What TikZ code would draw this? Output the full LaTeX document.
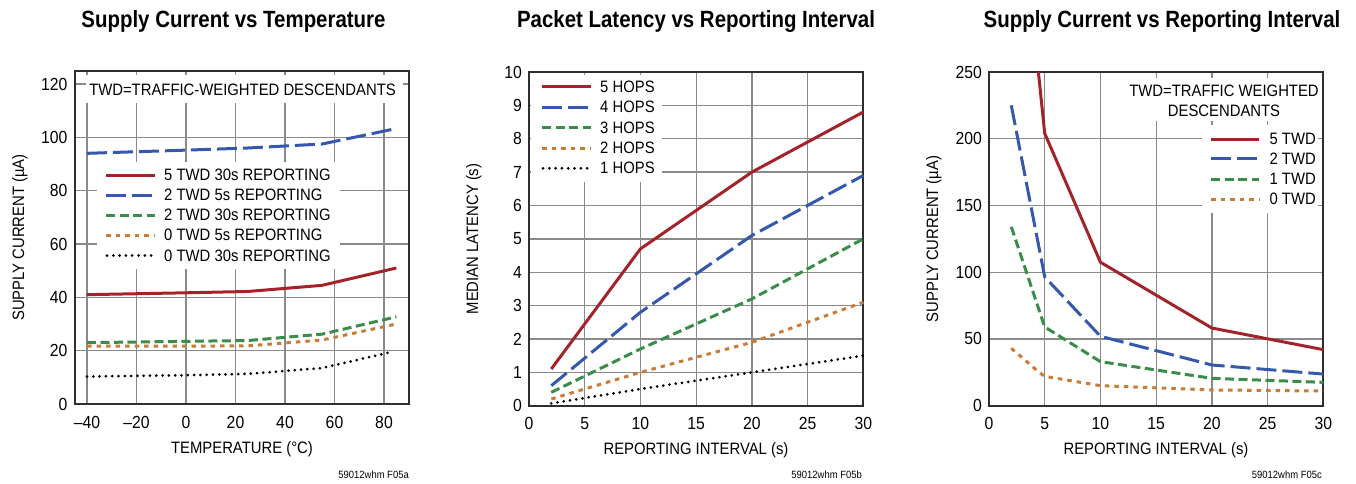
\documentclass[tikz,border=0pt]{standalone}
\usepackage{fontspec}
\setmainfont{Liberation Sans}[FakeStretch=0.9]
\newfontfamily\ttlfont{Liberation Sans}[FakeStretch=0.87]
\definecolor{cred}{HTML}{A3232B}
\definecolor{cblue}{HTML}{3558AC}
\definecolor{cgreen}{HTML}{3A8D48}
\definecolor{corange}{HTML}{C97B38}
\definecolor{gridc}{HTML}{8A8A8A}
\definecolor{framec}{HTML}{2E2E2E}
\tikzset{
 gridline/.style={gridc, line width=1.3pt},
 framebox/.style={framec, line width=2pt},
 c5/.style={cred, line width=3pt, line join=round},
 c4/.style={cblue, line width=3pt, dash pattern=on 20pt off 6pt},
 c3/.style={cgreen, line width=3pt, dash pattern=on 9pt off 4.5pt},
 c2/.style={corange, line width=3pt, dash pattern=on 4.5pt off 5pt},
 c1/.style={black, line width=3pt, line cap=round, dash pattern=on 0pt off 6.3pt},
 ttl/.style={font=\ttlfont\bfseries\fontsize{23.5}{27}\selectfont, anchor=base, inner sep=0pt},
 tick/.style={font=\fontsize{17.5}{20}\selectfont, inner sep=0pt},
 lab/.style={font=\fontsize{16.5}{19}\selectfont, inner sep=0pt},
 leg/.style={font=\fontsize{16.5}{19}\selectfont, inner sep=0pt, anchor=west},
 foot/.style={font=\fontsize{10.5}{12}\selectfont, inner sep=0pt, anchor=base east},
}
\begin{document}
\begin{tikzpicture}[x=1pt,y=-1pt]
\useasboundingbox[fill=white] (0,0) rectangle (1356,484);

% titles
\node[ttl] (t1) at (233.5,28) {Supply Current vs Temperature};
\node[ttl] (t2) at (696,28) {Packet Latency vs Reporting Interval};
\node[ttl] (t3) at (1162,28) {Supply Current vs Reporting Interval};

% ---------------- grids
\begin{scope}[shift={(186pt,-404pt)}, x=2.475pt, y=2.6667pt]
\foreach \t in {-40,-20,...,80} \draw[gridline] (\t,0) -- (\t,125);
\foreach \v in {20,40,...,120} \draw[gridline] (-45,\v) -- (90,\v);
\end{scope}
\begin{scope}[shift={(529pt,-405.7pt)}, x=11.143pt, y=33.37pt]
\foreach \t in {5,10,...,25} \draw[gridline] (\t,0) -- (\t,10);
\foreach \v in {1,...,9} \draw[gridline] (0,\v) -- (30,\v);
\end{scope}
\begin{scope}[shift={(989pt,-405.7pt)}, x=11.143pt, y=1.3348pt]
\foreach \t in {5,10,...,25} \draw[gridline] (\t,0) -- (\t,250);
\foreach \v in {50,100,...,200} \draw[gridline] (0,\v) -- (30,\v);
\end{scope}

% ---------------- white boxes behind texts
\fill[white] (86,75) rectangle (403,103);
\fill[white] (97,162) rectangle (340,269);
\fill[white] (531,75) rectangle (662,182);
\fill[white] (1128,78) rectangle (1320,121);
\fill[white] (1202,125) rectangle (1318,213);

% ---------------- panel 1
\begin{scope}[shift={(186pt,-404pt)}, x=2.475pt, y=2.6667pt]
\draw[framebox] (-45,0) rectangle (90,125);
\foreach \v [count=\i] in {0,20,...,120} \node[tick, anchor=east, xshift=-7pt] (p1y\i) at (-45,\v) {\v};
\foreach \t/\s [count=\i] in {-40/–40,-20/–20,0/0,20/20,40/40,60/60,80/80}
  \node[tick, yshift=-18pt] (p1x\i) at (\t,0) {\s};
\draw[c4] (-40,94) -- (0,95.2) -- (25,96) -- (55,97.5) -- (85,103.3);
\draw[c5] (-40,41) -- (0,41.7) -- (25,42.2) -- (55,44.5) -- (85,51);
\draw[c3] (-40,23) -- (0,23.5) -- (25,23.8) -- (55,26.2) -- (85,32.7);
\draw[c2] (-40,21.7) -- (0,21.7) -- (25,21.8) -- (55,24) -- (85,30);
\draw[c1] (-40,10.3) -- (0,10.8) -- (25,11.3) -- (55,13.5) -- (83,19.5);
\end{scope}
\node[lab, anchor=base] (p1n) at (242.5,96) {TWD=TRAFFIC-WEIGHTED DESCENDANTS};
\draw[c5] (106,175) -- (155,175);
\draw[c4] (106,195) -- (155,195);
\draw[c3] (106,215) -- (155,215);
\draw[c2] (106,235) -- (155,235);
\draw[c1] (107,255.5) -- (155,255.5);
\node[leg] (l1a) at (164,175) {5 TWD 30s REPORTING};
\node[leg] (l1b) at (164,195) {2 TWD 5s REPORTING};
\node[leg] (l1c) at (164,215) {2 TWD 30s REPORTING};
\node[leg] (l1d) at (164,235) {0 TWD 5s REPORTING};
\node[leg] (l1e) at (164,255.5) {0 TWD 30s REPORTING};
\node[lab, anchor=base] (p1xl) at (242,453) {TEMPERATURE (°C)};
\node[lab, anchor=base, rotate=90] (p1yl) at (24,237.5) {SUPPLY CURRENT (µA)};
\node[foot] (f1) at (409,478) {59012whm F05a};

% ---------------- panel 2
\begin{scope}[shift={(529pt,-405.7pt)}, x=11.143pt, y=33.37pt]
\draw[framebox] (0,0) rectangle (30,10);
\foreach \v [count=\i] in {0,...,10} \node[tick, anchor=east, xshift=-7pt] (p2y\i) at (0,\v) {\v};
\foreach \t [count=\i] in {0,5,...,30} \node[tick, yshift=-17.6pt] (p2x\i) at (\t,0) {\t};
\draw[c5] (2,1.1) -- (10,4.7) -- (20,7) -- (30,8.8);
\draw[c4] (2,0.6) -- (10,2.8) -- (20,5.1) -- (30,6.9);
\draw[c3] (2,0.4) -- (10,1.7) -- (20,3.2) -- (30,5.0);
\draw[c2] (2,0.2) -- (10,1.0) -- (20,1.9) -- (30,3.1);
\draw[c1] (2,0.07) -- (10,0.5) -- (20,1.0) -- (30,1.5);
\end{scope}
\draw[c5] (542,87) -- (591,87);
\draw[c4] (542,107.3) -- (591,107.3);
\draw[c3] (542,127.6) -- (591,127.6);
\draw[c2] (542,148) -- (591,148);
\draw[c1] (543,168.3) -- (591,168.3);
\node[leg] (l2a) at (600,87) {5 HOPS};
\node[leg] (l2b) at (600,107.3) {4 HOPS};
\node[leg] (l2c) at (600,127.6) {3 HOPS};
\node[leg] (l2d) at (600,148) {2 HOPS};
\node[leg] (l2e) at (600,168.3) {1 HOPS};
\node[lab, anchor=base] (p2xl) at (696,454) {REPORTING INTERVAL (s)};
\node[lab, anchor=base, rotate=90] (p2yl) at (478,239) {MEDIAN LATENCY (s)};
\node[foot] (f2) at (862,478) {59012whm F05b};

% ---------------- panel 3
\begin{scope}[shift={(989pt,-405.7pt)}, x=11.143pt, y=1.3348pt]
\draw[framebox] (0,0) rectangle (30,250);
\foreach \v [count=\i] in {0,50,...,250} \node[tick, anchor=east, xshift=-7pt] (p3y\i) at (0,\v) {\v};
\foreach \t [count=\i] in {0,5,...,30} \node[tick, yshift=-17.6pt] (p3x\i) at (\t,0) {\t};
\draw[c5] (4.43,250) -- (5,204) -- (10,107.5) -- (20,58.2) -- (30,42);
\draw[c4] (2,225) -- (5,96.5) -- (10,52) -- (20,30.5) -- (30,23.7);
\draw[c3] (2,134) -- (5,59) -- (10,33) -- (20,20.5) -- (30,17.5);
\draw[c2] (2,43) -- (4.5,25) -- (5,22) -- (10,15) -- (20,11.8) -- (30,11);
\end{scope}
\node[lab, anchor=base] (p3n1) at (1224,96.7) {TWD=TRAFFIC WEIGHTED};
\node[lab, anchor=base] (p3n2) at (1224,116.7) {DESCENDANTS};
\draw[c5] (1211,139) -- (1259,139);
\draw[c4] (1211,158.5) -- (1259,158.5);
\draw[c3] (1211,179) -- (1259,179);
\draw[c2] (1211,199) -- (1259,199);
\node[leg, anchor=east] (l3a) at (1316,139) {5 TWD};
\node[leg, anchor=east] (l3b) at (1316,158.5) {2 TWD};
\node[leg, anchor=east] (l3c) at (1316,179) {1 TWD};
\node[leg, anchor=east] (l3d) at (1316,199) {0 TWD};
\node[lab, anchor=base] (p3xl) at (1156,454) {REPORTING INTERVAL (s)};
\node[lab, anchor=base, rotate=90] (p3yl) at (938,239) {SUPPLY CURRENT (µA)};
\node[foot] (f3) at (1322,478) {59012whm F05c};
\end{tikzpicture}
\end{document}
